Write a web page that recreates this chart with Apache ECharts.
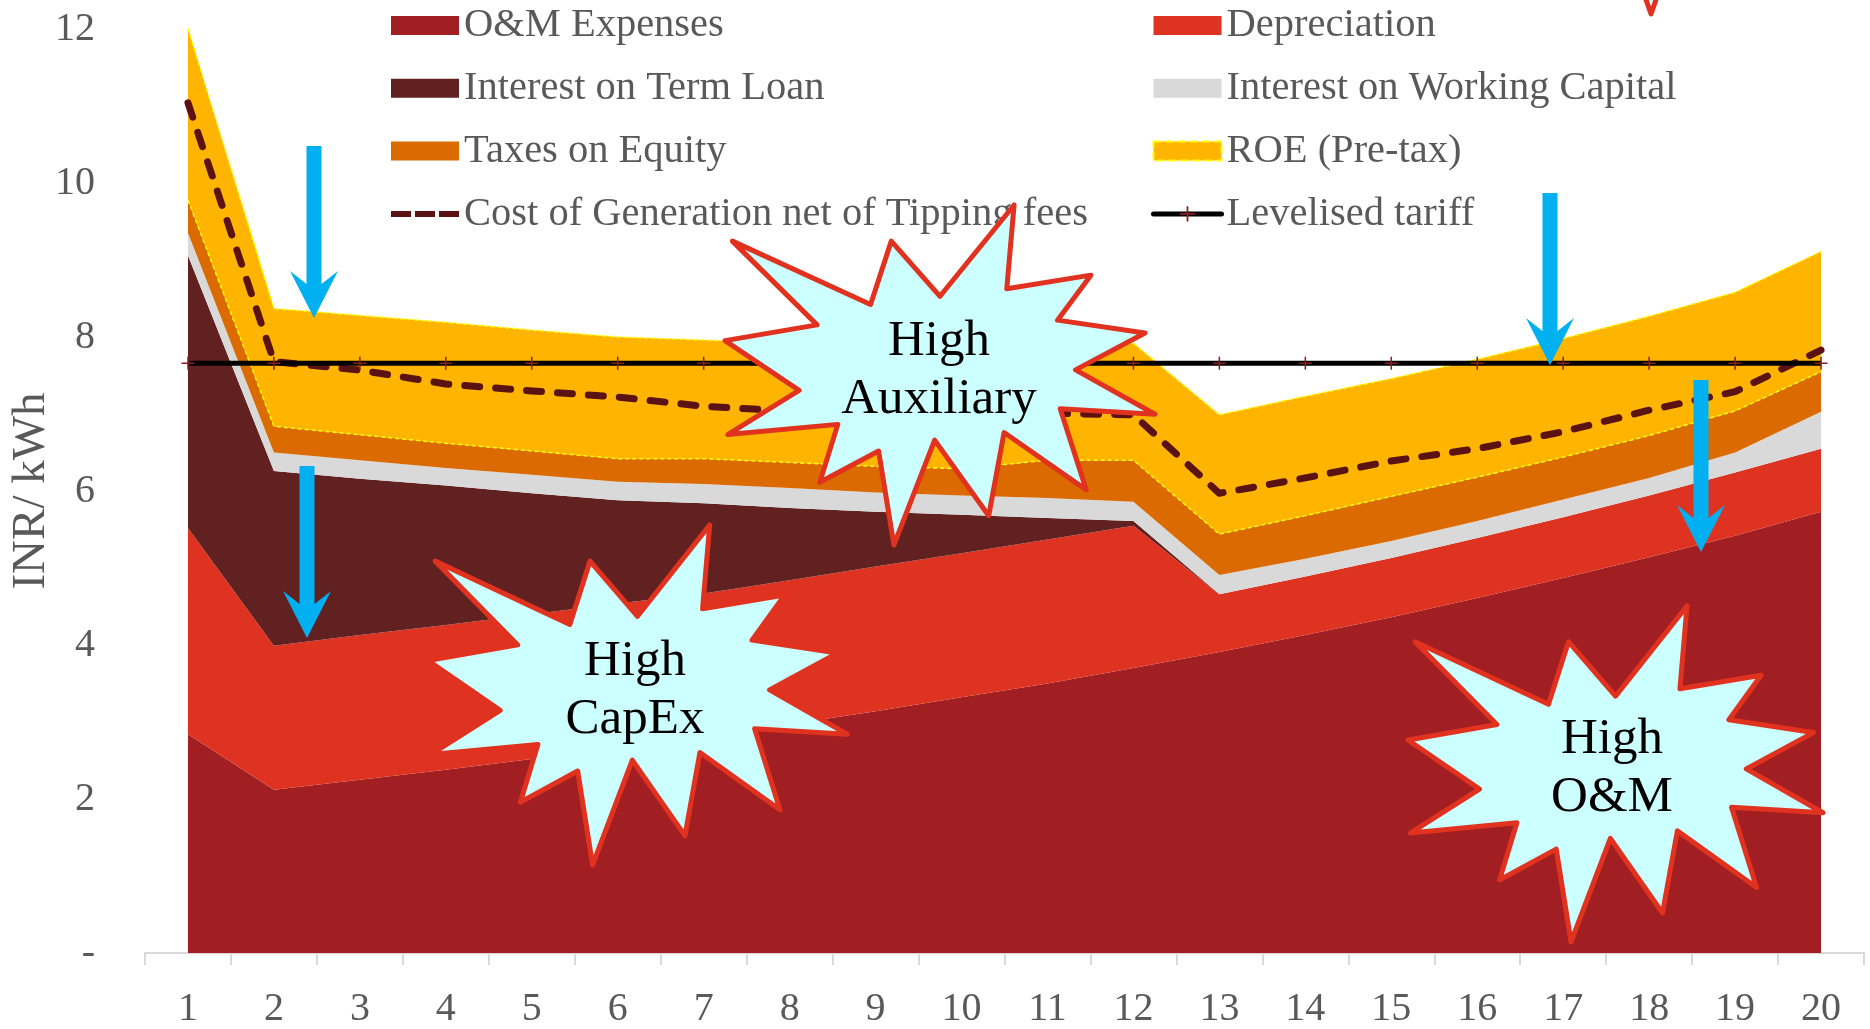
<!DOCTYPE html>
<html>
<head>
<meta charset="utf-8">
<script src="https://cdn.jsdelivr.net/npm/echarts@6/dist/echarts.min.js"></script>
<style>html,body{margin:0;padding:0;background:#fff;}#c{width:1870px;height:1029px;}</style>
</head>
<body>
<div id="c"></div>
<script>
// ---- data (INR / kWh) ----
const years = ['1','2','3','4','5','6','7','8','9','10','11','12','13','14','15','16','17','18','19','20'];
const omExpenses = [2.84, 2.12, 2.25, 2.38, 2.52, 2.66, 2.81, 2.97, 3.14, 3.32, 3.50, 3.70, 3.91, 4.13, 4.36, 4.61, 4.87, 5.14, 5.42, 5.73];
const depreciation = [2.68, 1.87, 1.88, 1.88, 1.88, 1.88, 1.86, 1.87, 1.88, 1.87, 1.87, 1.85, 0.75, 0.76, 0.77, 0.78, 0.79, 0.80, 0.82, 0.82];
const interestTermLoan = [3.54, 2.27, 2.03, 1.81, 1.57, 1.34, 1.17, 0.94, 0.71, 0.50, 0.28, 0.06, 0, 0, 0, 0, 0, 0, 0, 0];
const interestWorkingCapital = [0.29, 0.24, 0.24, 0.23, 0.24, 0.24, 0.25, 0.26, 0.25, 0.25, 0.26, 0.25, 0.25, 0.23, 0.22, 0.22, 0.23, 0.23, 0.26, 0.48];
const taxesOnEquity = [0.43, 0.34, 0.33, 0.32, 0.31, 0.30, 0.33, 0.33, 0.34, 0.35, 0.49, 0.54, 0.53, 0.56, 0.58, 0.57, 0.55, 0.55, 0.54, 0.52];
const roePreTax = [2.23, 1.53, 1.55, 1.57, 1.57, 1.58, 1.54, 1.55, 1.56, 1.56, 1.52, 1.52, 1.55, 1.55, 1.53, 1.53, 1.54, 1.55, 1.54, 1.56];
const costNetOfTipping = [11.04, 7.68, 7.57, 7.39, 7.30, 7.22, 7.10, 7.04, 7.01, 7.00, 7.01, 6.99, 5.97, 6.17, 6.39, 6.55, 6.77, 7.05, 7.29, 7.83];
const levelisedTariff = [7.66, 7.66, 7.66, 7.66, 7.66, 7.66, 7.66, 7.66, 7.66, 7.66, 7.66, 7.66, 7.66, 7.66, 7.66, 7.66, 7.66, 7.66, 7.66, 7.66];
const yMin = 0, yMax = 12, yStep = 2;
const zeroLabel = '-';

// ---- style ----
const FONT = '"Liberation Serif", "Times New Roman", serif';
const GREY = '#595959';
const C = {
  om: '#A11F22', dep: '#DF3321', itl: '#612121', iwc: '#D9D9D9',
  tax: '#DB6A00', roe: '#FFB500', cost: '#5A1212', tariff: '#000000', plus: '#8B1E1E'
};
const PLUS = 'path://M11.5,0h3v11.5h11.5v3h-11.5v11.5h-3v-11.5h-11.5v-3h11.5z';
const DASH_ICON = 'path://M0,0M68,19M0,6.5h20v6h-20zM24,6.5h20v6h-20zM48,6.5h20v6h-20z';

function area(name, data, color, lineStyle) {
  return {
    name, type: 'line', stack: 'cost', data, symbol: 'none', showSymbol: false,
    lineStyle: lineStyle || { width: 0, opacity: 0 },
    areaStyle: { color, opacity: 1 },
    itemStyle: { color },
    emphasis: { disabled: true },
    silent: true
  };
}
const yellowEdge = { color: '#FFFF00', width: 1.5, type: [4, 3] };

// Excel preset "Explosion 1" outline (21600 x 21600 design space)
const SEAL = [[10800,5800],[14522,0],[14155,5325],[18380,4457],[16702,7315],[21097,8137],[17607,10475],
  [21600,13290],[16837,12942],[18145,18095],[14020,14457],[13247,19737],[10532,14935],[8485,21600],
  [7715,15627],[4762,17617],[5667,13937],[135,14587],[3722,11775],[0,8615],[4627,7617],[370,2295],
  [7312,6320],[8352,2295]];
function seal(x0, y0, w, h) { return SEAL.map(p => [x0 + p[0] / 21600 * w, y0 + p[1] / 21600 * h]); }
function arrow(cx, top, wingY, tip) {
  const s = 7.5, h = 24;
  return [[cx - s, top], [cx + s, top], [cx + s, wingY + 13], [cx + h, wingY], [cx, tip], [cx - h, wingY], [cx - s, wingY + 13]];
}
const starStyle = { fill: '#CCFFFF', stroke: '#E0321F', lineWidth: 5, lineJoin: 'round' };
const calloutText = (x, y, text) => ({
  type: 'text', x, y, z: 101,
  style: { text, fontFamily: FONT, fontSize: 51, lineHeight: 58, fill: '#000', align: 'center', verticalAlign: 'middle' }
});
const blue = { fill: '#00B0F0' };

const legendText = { color: GREY, fontFamily: FONT, fontSize: 40.5 };
const legendCommon = {
  orient: 'vertical', top: 5, itemWidth: 68, itemHeight: 19, itemGap: 21.8,
  textStyle: legendText, selectedMode: false, padding: 0
};

const option = {
  animation: false,
  backgroundColor: '#ffffff',
  grid: { left: 145, right: 6, top: 29, bottom: 76, containLabel: false, outerBoundsMode: 'none' },
  legend: [
    Object.assign({}, legendCommon, {
      left: 391,
      data: [
        { name: 'O&M Expenses', icon: 'rect', itemStyle: { color: C.om, borderWidth: 0 } },
        { name: 'Interest on Term Loan', icon: 'rect', itemStyle: { color: C.itl, borderWidth: 0 } },
        { name: 'Taxes on Equity', icon: 'rect', itemStyle: { color: C.tax, borderWidth: 0 } },
        { name: 'Cost of Generation net of Tipping fees', icon: DASH_ICON, itemStyle: { color: C.cost, borderWidth: 0 } }
      ]
    }),
    Object.assign({}, legendCommon, {
      left: 1151,
      data: [
        { name: 'Depreciation', icon: 'rect', itemStyle: { color: C.dep, borderWidth: 0 } },
        { name: 'Interest on Working Capital', icon: 'rect', itemStyle: { color: C.iwc, borderWidth: 0 } },
        { name: 'ROE (Pre-tax)', icon: 'rect', itemStyle: { color: C.roe, borderColor: '#FFFF00', borderWidth: 2, borderType: 'dashed' } },
        { name: 'Levelised tariff', itemStyle: { color: C.plus, borderWidth: 0 }, lineStyle: { color: '#000', width: 5, cap: 'round' } }
      ]
    })
  ],
  xAxis: {
    type: 'category', data: years, boundaryGap: true,
    axisLine: { lineStyle: { color: '#D9D9D9', width: 2 } },
    axisTick: { show: true, length: 12, lineStyle: { color: '#D9D9D9', width: 2 } },
    axisLabel: { color: GREY, fontFamily: FONT, fontSize: 40, margin: 36, interval: 0 },
    splitLine: { show: false }
  },
  yAxis: {
    type: 'value', min: yMin, max: yMax, interval: yStep,
    name: 'INR/ kWh', nameLocation: 'middle', nameGap: 90, nameMoveOverlap: false,
    nameTextStyle: { color: GREY, fontFamily: FONT, fontSize: 47 },
    axisLine: { show: false }, axisTick: { show: false }, splitLine: { show: false },
    axisLabel: { color: GREY, fontFamily: FONT, fontSize: 40, margin: 50, padding: [9, 0, 0, 0],
      formatter: v => (v === 0 ? zeroLabel : String(v)) }
  },
  series: [
    area('O&M Expenses', omExpenses, C.om),
    area('Depreciation', depreciation, C.dep),
    area('Interest on Term Loan', interestTermLoan, C.itl),
    area('Interest on Working Capital', interestWorkingCapital, C.iwc),
    area('Taxes on Equity', taxesOnEquity, C.tax, yellowEdge),
    area('ROE (Pre-tax)', roePreTax, C.roe, yellowEdge),
    {
      name: 'Cost of Generation net of Tipping fees', type: 'line', data: costNetOfTipping,
      symbol: 'none', showSymbol: false, z: 3,
      lineStyle: { color: C.cost, width: 7, type: [15, 16], cap: 'round', join: 'round' },
      itemStyle: { color: C.cost }, emphasis: { disabled: true }, silent: true
    },
    {
      name: 'Levelised tariff', type: 'line', data: levelisedTariff,
      symbol: PLUS, symbolSize: 13, showSymbol: true, z: 4,
      lineStyle: { color: C.tariff, width: 5 },
      itemStyle: { color: C.plus, borderWidth: 0 }, emphasis: { disabled: true }, silent: true
    }
  ],
  graphic: [
    { type: 'polygon', z: 100, shape: { points: seal(725, 205, 430, 340) }, style: starStyle },
    calloutText(939, 371, 'High\nAuxiliary'),
    { type: 'polygon', z: 100, shape: { points: seal(428, 525, 419, 340) }, style: starStyle },
    calloutText(635, 691, 'High\nCapEx'),
    { type: 'polygon', z: 100, shape: { points: seal(1408, 606, 415, 336) }, style: starStyle },
    calloutText(1612, 769, 'High\nO&M'),
    { type: 'polygon', z: 100, shape: { points: [[1644, -6], [1651, 14], [1658, -6]] }, style: starStyle },
    { type: 'polygon', z: 102, shape: { points: arrow(314, 146, 271, 318) }, style: blue },
    { type: 'polygon', z: 102, shape: { points: arrow(307, 466, 591, 638) }, style: blue },
    { type: 'polygon', z: 102, shape: { points: arrow(1550, 193, 318, 365) }, style: blue },
    { type: 'polygon', z: 102, shape: { points: arrow(1701, 380, 505, 552) }, style: blue }
  ]
};

const chart = echarts.init(document.getElementById('c'), null, { renderer: 'canvas' });
chart.setOption(option);
</script>
</body>
</html>
